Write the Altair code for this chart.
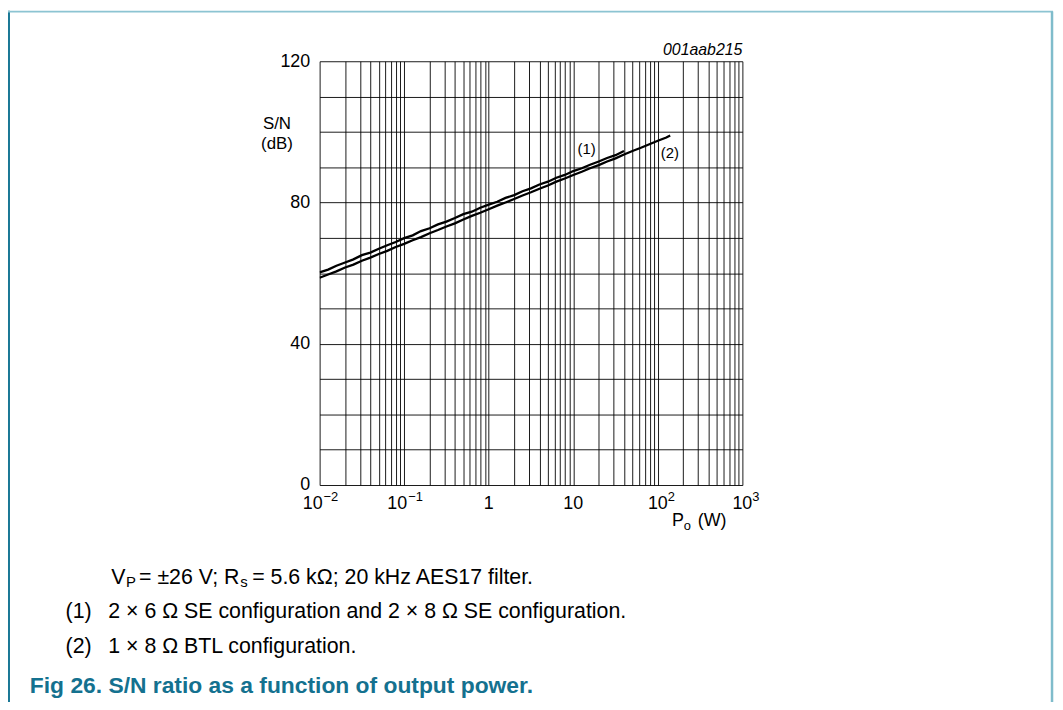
import altair as alt
import pandas as pd

# ---- data ----
P1 = [0.01, 0.0126, 0.0158, 0.02, 0.0251, 0.0316, 0.0398, 0.0501, 0.0631, 0.0794,
      0.1, 0.126, 0.158, 0.2, 0.251, 0.316, 0.398, 0.501, 0.631, 0.794,
      1.0, 1.26, 1.58, 2.0, 2.51, 3.16, 3.98, 5.01, 6.31, 7.94,
      10.0, 12.6, 15.8, 20.0, 25.1, 31.6, 39.8]
SN1 = [60.2, 61.0, 62.1, 63.0, 63.9, 65.1, 65.8, 66.9, 67.9, 68.8,
       69.9, 70.7, 71.9, 72.7, 73.8, 74.6, 75.6, 76.7, 77.4, 78.5,
       79.4, 80.2, 81.3, 82.1, 83.2, 84.0, 85.1, 85.9, 87.0, 87.8,
       88.9, 89.7, 90.7, 91.6, 92.6, 93.4, 94.6]

P2 = [0.01, 0.0126, 0.0158, 0.02, 0.0251, 0.0316, 0.0398, 0.0501, 0.0631, 0.0794,
      0.1, 0.126, 0.158, 0.2, 0.251, 0.316, 0.398, 0.501, 0.631, 0.794,
      1.0, 1.26, 1.58, 2.0, 2.51, 3.16, 3.98, 5.01, 6.31, 7.94,
      10.0, 12.6, 15.8, 20.0, 25.1, 31.6, 39.8, 50.1, 63.1, 79.4,
      100.0, 126.0, 140.0]
SN2 = [58.7, 59.6, 60.5, 61.6, 62.4, 63.5, 64.4, 65.4, 66.3, 67.4,
       68.3, 69.3, 70.2, 71.3, 72.2, 73.2, 74.1, 75.2, 76.2, 77.1,
       78.1, 79.1, 80.0, 81.0, 82.0, 82.9, 83.9, 84.8, 85.9, 86.8,
       87.8, 88.7, 89.7, 90.6, 91.6, 92.5, 93.6, 94.6, 95.5, 96.5,
       97.5, 98.4, 99.0]

X_GRID = [m * 10.0 ** e for e in range(-2, 3) for m in range(1, 10)] + [1000.0]
Y_GRID = list(range(0, 121, 10))

X_LABEL_POS = [0.01, 0.1, 1, 10, 100, 1000]
X_LABEL_BASE = ["10", "10", "1", "10", "10", "10"]
X_LABEL_EXP = ["\u22122", "\u22121", "", "", "2", "3"]

FONT = "Liberation Sans"
TEAL = "#14718f"

W, H = 426, 427
PAD_L, PAD_T = 314, 51
PAD_R = 1055 - PAD_L - W
PAD_B = 694 - PAD_T - H

xscale = alt.Scale(type="log", domain=[0.01, 1000])
yscale = alt.Scale(domain=[0, 120])

curves = pd.concat([
    pd.DataFrame({"P": P1, "SN": SN1, "series": "(1)"}),
    pd.DataFrame({"P": P2, "SN": SN2, "series": "(2)"}),
])

base_axes = alt.Chart(curves).mark_line(color="black", strokeWidth=2.3, clip=True).encode(
    x=alt.X("P:Q", scale=xscale,
            axis=alt.Axis(values=X_GRID, labels=False, ticks=False, grid=True,
                          gridColor="black", gridWidth=0.9, gridOpacity=1,
                          domain=False, title=None)),
    y=alt.Y("SN:Q", scale=yscale,
            axis=alt.Axis(values=Y_GRID, ticks=False, grid=True, gridColor="black",
                          gridWidth=0.9, gridOpacity=1, domain=False, title=None,
                          labelExpr="datum.value % 40 == 0 ? datum.label : ''",
                          labelFont=FONT, labelFontSize=18, labelColor="black",
                          labelPadding=10)),
    detail="series:N",
)

xl = pd.DataFrame({"P": X_LABEL_POS, "b": X_LABEL_BASE, "e": X_LABEL_EXP})
plain = xl[xl["e"] == ""]
neg = xl[xl["e"].str.startswith("\u2212")]
pos = xl[(xl["e"] != "") & ~xl["e"].str.startswith("\u2212")]

LBL_Y = 446


def lbl(df, field, align, dx, y, fs):
    return alt.Chart(df).mark_text(
        font=FONT, fontSize=fs, align=align, baseline="middle", dx=dx, color="black"
    ).encode(x=alt.X("P:Q", scale=xscale), y=alt.value(y), text=f"{field}:N")


xl_layers = [
    lbl(plain, "b", "center", 0, LBL_Y, 18),
    lbl(neg, "b", "right", 3, LBL_Y, 18),
    lbl(neg, "e", "left", 4, LBL_Y - 7, 13),
    lbl(pos, "b", "right", 10, LBL_Y, 18),
    lbl(pos, "e", "left", 10, LBL_Y - 7, 13),
]

# annotations in pixel space (relative to plot origin)
ann = pd.DataFrame([
    {"t": "S/N", "px": -43, "py": 63, "fs": 17, "al": "center"},
    {"t": "(dB)", "px": -43, "py": 83, "fs": 17, "al": "center"},
    {"t": "(1)", "px": 269, "py": 88, "fs": 15, "al": "center"},
    {"t": "(2)", "px": 353, "py": 92, "fs": 15, "al": "center"},
    {"t": "P", "px": 355, "py": 463, "fs": 18, "al": "left"},
    {"t": "o", "px": 367, "py": 468, "fs": 13, "al": "left"},
    {"t": "(W)", "px": 381, "py": 463, "fs": 18, "al": "left"},
    # caption line 1
    {"t": "V", "px": -210, "py": 521, "fs": 21.5, "al": "left"},
    {"t": "P", "px": -195, "py": 525, "fs": 15, "al": "left"},
    {"t": "= \u00b126 V; R", "px": -182, "py": 521, "fs": 21.5, "al": "left"},
    {"t": "s", "px": -80, "py": 525, "fs": 15, "al": "left"},
    {"t": "= 5.6 k\u03a9; 20 kHz AES17 filter.", "px": -68, "py": 521, "fs": 21.5, "al": "left"},
    # caption line 2,3
    {"t": "(1)", "px": -256, "py": 555, "fs": 21.5, "al": "left"},
    {"t": "2 \u00d7 6 \u03a9 SE configuration and 2 \u00d7 8 \u03a9 SE configuration.", "px": -213, "py": 555, "fs": 21.5, "al": "left"},
    {"t": "(2)", "px": -256, "py": 590, "fs": 21.5, "al": "left"},
    {"t": "1 \u00d7 8 \u03a9 BTL configuration.", "px": -213, "py": 590, "fs": 21.5, "al": "left"},
])


def text_layer(df, align):
    return alt.Chart(df[df["al"] == align]).mark_text(
        font=FONT, align=align, baseline="middle", color="black"
    ).encode(
        x=alt.X("px:Q", scale=None),
        y=alt.Y("py:Q", scale=None),
        text="t:N",
        size=alt.Size("fs:Q", scale=None, legend=None),
    )


ann_c = text_layer(ann, "center")
ann_l = text_layer(ann, "left")

code_lbl = alt.Chart(pd.DataFrame({"t": ["001aab215"]})).mark_text(
    font=FONT, fontSize=16, fontStyle="italic", align="right", baseline="middle", color="black"
).encode(x=alt.value(426), y=alt.value(-11), text="t:N")

title_lbl = alt.Chart(pd.DataFrame({"t": ["Fig 26.  S/N ratio as a function of output power."]})).mark_text(
    font=FONT, fontSize=23, fontWeight="bold", align="left", baseline="middle", color=TEAL
).encode(x=alt.value(-292), y=alt.value(630), text="t:N")

borders = pd.DataFrame([
    {"x": -313, "x2": -313, "y": -51, "y2": 651, "c": "#1a7896", "w": 2.0},
    {"x": -314, "x2": 739, "y": -50, "y2": -50, "c": "#8cc4d2", "w": 2.0},
    {"x": 738, "x2": 738, "y": -50, "y2": 651, "c": "#7fbccb", "w": 2.5},
])
border_layer = alt.Chart(borders).mark_rule().encode(
    x=alt.X("x:Q", scale=None), x2="x2:Q",
    y=alt.Y("y:Q", scale=None), y2="y2:Q",
    color=alt.Color("c:N", scale=None),
    strokeWidth=alt.StrokeWidth("w:Q", scale=None),
)

chart = alt.layer(
    base_axes, *xl_layers, ann_c, ann_l, code_lbl, title_lbl, border_layer
).properties(
    width=W, height=H,
    autosize=alt.AutoSizeParams(type="none"),
    padding={"left": PAD_L, "top": PAD_T, "right": PAD_R, "bottom": PAD_B},
    background="white",
).configure_view(stroke=None)

chart.save("out.html", embed_options={"renderer": "svg", "actions": False})
